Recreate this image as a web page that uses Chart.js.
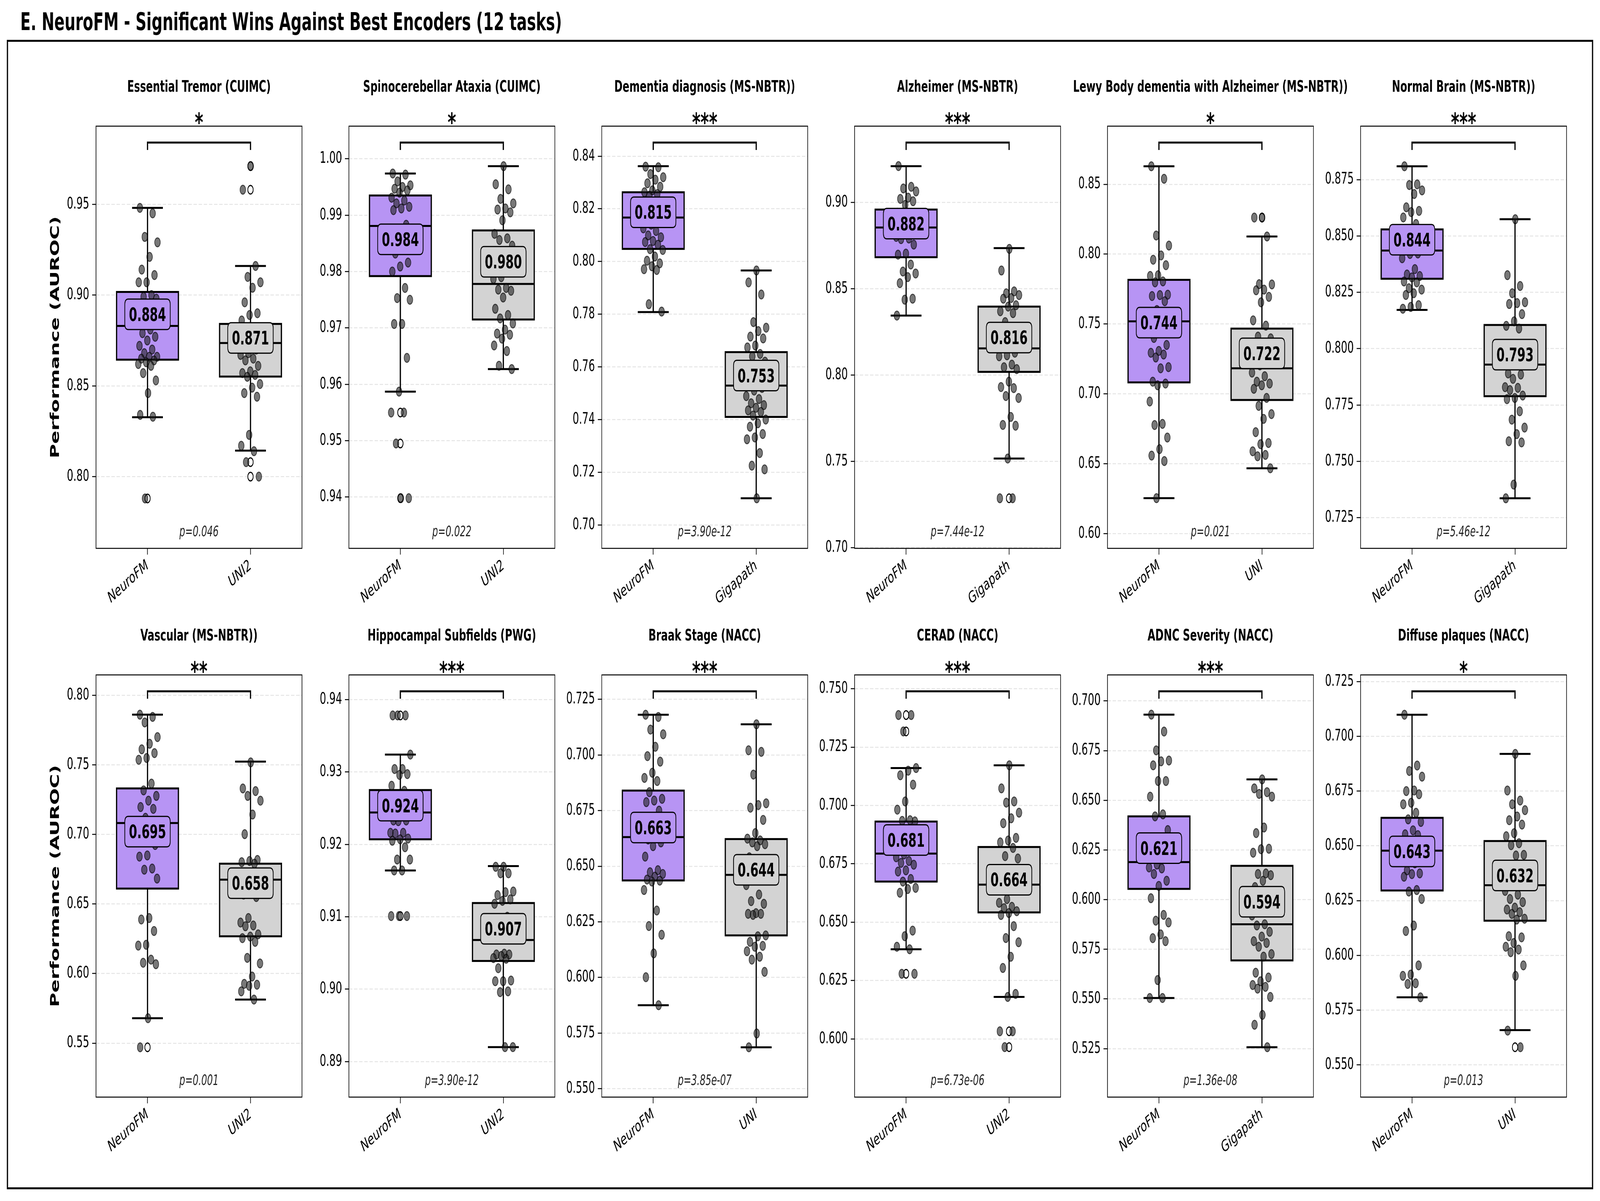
<!DOCTYPE html>
<html>
<head>
<meta charset="utf-8">
<script src="https://cdn.jsdelivr.net/npm/chart.js@4.4.1/dist/chart.umd.min.js"></script>
<style>
html, body { margin: 0; padding: 0; background: #fff; overflow: hidden; }
#page { position: absolute; left: 0; top: 0; width: 6549px; height: 3075px; background: #fff; transform-origin: 0 0; }
#title { position: absolute; left: 83px; top: 25px; font: bold 62px/62px 'DejaVu Sans'; white-space: nowrap; color: #000; }
#frame { position: absolute; left: 28px; top: 102px; width: 6493px; height: 2943px; border: 5px solid #000; box-sizing: border-box; }
canvas { position: absolute; }
</style>
</head>
<body>
<div id="page">
<div id="title">E. NeuroFM - Significant Wins Against Best Encoders (12 tasks)</div>
<div id="frame"></div>
</div>
<script>
// tasks and comparators
var tasks = ['Essential Tremor (CUIMC)', 'Spinocerebellar Ataxia (CUIMC)', 'Dementia diagnosis (MS-NBTR))',
  'Alzheimer (MS-NBTR)', 'Lewy Body dementia with Alzheimer (MS-NBTR))', 'Normal Brain (MS-NBTR))',
  'Vascular (MS-NBTR))', 'Hippocampal Subfields (PWG)', 'Braak Stage (NACC)', 'CERAD (NACC)',
  'ADNC Severity (NACC)', 'Diffuse plaques (NACC)'];
var rivals = ['UNI2', 'UNI2', 'Gigapath', 'Gigapath', 'UNI', 'Gigapath', 'UNI2', 'UNI2', 'UNI', 'UNI2', 'Gigapath', 'UNI'];
var stars = ['*', '*', '***', '***', '*', '***', '**', '***', '***', '***', '***', '*'];
var pLabels = ['p=0.046', 'p=0.022', 'p=3.90e-12', 'p=7.44e-12', 'p=0.021', 'p=5.46e-12',
  'p=0.001', 'p=3.90e-12', 'p=3.85e-07', 'p=6.73e-06', 'p=1.36e-08', 'p=0.013'];

// means shown in the labels
var meanNeuro = [0.884, 0.984, 0.815, 0.882, 0.744, 0.844, 0.695, 0.924, 0.663, 0.681, 0.621, 0.643];
var meanRival = [0.871, 0.980, 0.753, 0.816, 0.722, 0.793, 0.658, 0.907, 0.644, 0.664, 0.594, 0.632];

// box stats NeuroFM
var q1Neuro  = [0.8644, 0.9792, 0.8048, 0.8682, 0.7082, 0.8310, 0.6611, 0.9207, 0.6436, 0.6674, 0.6054, 0.6296];
var medNeuro = [0.8830, 0.9881, 0.8167, 0.8854, 0.7519, 0.8435, 0.7082, 0.9244, 0.6631, 0.6794, 0.6189, 0.6478];
var q3Neuro  = [0.9017, 0.9935, 0.8263, 0.8958, 0.7816, 0.8529, 0.7331, 0.9275, 0.6840, 0.6931, 0.6419, 0.6628];
var loNeuro  = [0.8327, 0.9587, 0.7808, 0.8344, 0.6253, 0.8172, 0.5679, 0.9164, 0.5875, 0.6384, 0.5505, 0.5808];
var hiNeuro  = [0.9480, 0.9974, 0.8362, 0.9209, 0.8629, 0.8809, 0.7861, 0.9324, 0.7181, 0.7160, 0.6931, 0.7099];
// box stats comparator
var q1Rival  = [0.8551, 0.9715, 0.7410, 0.8018, 0.6956, 0.7789, 0.6268, 0.9039, 0.6189, 0.6542, 0.5694, 0.6158];
var medRival = [0.8736, 0.9778, 0.7529, 0.8154, 0.7183, 0.7929, 0.6675, 0.9068, 0.6461, 0.6661, 0.5876, 0.6320];
var q3Rival  = [0.8841, 0.9873, 0.7656, 0.8396, 0.7467, 0.8105, 0.6790, 0.9119, 0.6622, 0.6822, 0.6170, 0.6522];
var loRival  = [0.8143, 0.9627, 0.7101, 0.7516, 0.6467, 0.7336, 0.5813, 0.8920, 0.5686, 0.6180, 0.5257, 0.5658];
var hiRival  = [0.9160, 0.9987, 0.7966, 0.8735, 0.8126, 0.8574, 0.7524, 0.9170, 0.7138, 0.7172, 0.6605, 0.6920];

var fliersNeuro = [[0.788], [0.955, 0.9495, 0.9398], [], [], [], [], [0.547], [0.9378, 0.9101], [], [0.7387, 0.7317, 0.6279], [], []];
var fliersRival = [[0.971, 0.958, 0.808, 0.800], [], [], [0.7286], [0.8262], [], [], [], [], [0.6033, 0.5965], [], [0.558]];

// per-run scores
var ptsNeuro = [
  [0.948, 0.945, 0.932, 0.929, 0.921, 0.914, 0.911, 0.907, 0.907, 0.900, 0.899, 0.898, 0.893, 0.889, 0.887, 0.885, 0.884, 0.881, 0.879, 0.877, 0.875, 0.872, 0.870, 0.868, 0.866, 0.866, 0.865, 0.864, 0.863, 0.862, 0.861, 0.857, 0.853, 0.846, 0.834, 0.833, 0.788],
  [0.9974, 0.9972, 0.9960, 0.9953, 0.9950, 0.9947, 0.9944, 0.9940, 0.9931, 0.9926, 0.9921, 0.9915, 0.9912, 0.9909, 0.9883, 0.9873, 0.9865, 0.9855, 0.9832, 0.9816, 0.9809, 0.9800, 0.9771, 0.9753, 0.9750, 0.9707, 0.9707, 0.9647, 0.9587, 0.9550, 0.9550, 0.9495, 0.9398, 0.9398],
  [0.8360, 0.8358, 0.8332, 0.8320, 0.8311, 0.8297, 0.8284, 0.8270, 0.8263, 0.8256, 0.8250, 0.8220, 0.8190, 0.8180, 0.8160, 0.8140, 0.8126, 0.8116, 0.8099, 0.8092, 0.8078, 0.8074, 0.8064, 0.8047, 0.8044, 0.8019, 0.8003, 0.7993, 0.7982, 0.7971, 0.7968, 0.7838, 0.7810],
  [0.9210, 0.9090, 0.9080, 0.9063, 0.9027, 0.9020, 0.9006, 0.8985, 0.8940, 0.8920, 0.8900, 0.8890, 0.8870, 0.8850, 0.8840, 0.8820, 0.8800, 0.8790, 0.8787, 0.8755, 0.8703, 0.8697, 0.8640, 0.8599, 0.8588, 0.8567, 0.8532, 0.8442, 0.8436, 0.8344],
  [0.8629, 0.8539, 0.8133, 0.8061, 0.7991, 0.7960, 0.7921, 0.7849, 0.7844, 0.7805, 0.7798, 0.7710, 0.7707, 0.7700, 0.7663, 0.7600, 0.7520, 0.7450, 0.7400, 0.7350, 0.7307, 0.7294, 0.7281, 0.7260, 0.7191, 0.7183, 0.7087, 0.7074, 0.7061, 0.6945, 0.6785, 0.6777, 0.6687, 0.6604, 0.6558, 0.6519, 0.6253],
  [0.8809, 0.8729, 0.8726, 0.8702, 0.8686, 0.8627, 0.8611, 0.8606, 0.8582, 0.8553, 0.8500, 0.8480, 0.8460, 0.8450, 0.8422, 0.8420, 0.8401, 0.8353, 0.8329, 0.8322, 0.8316, 0.8298, 0.8294, 0.8268, 0.8262, 0.8246, 0.8238, 0.8193, 0.8185, 0.8177],
  [0.7861, 0.7845, 0.7805, 0.7700, 0.7652, 0.7612, 0.7585, 0.7550, 0.7537, 0.7366, 0.7317, 0.7277, 0.7243, 0.7197, 0.7184, 0.7120, 0.7050, 0.7000, 0.6957, 0.6924, 0.6849, 0.6841, 0.6755, 0.6747, 0.6683, 0.6399, 0.6389, 0.6306, 0.6207, 0.6201, 0.6100, 0.6078, 0.6067, 0.5679, 0.5470],
  [0.9378, 0.9378, 0.9378, 0.9324, 0.9304, 0.9304, 0.9297, 0.9296, 0.9281, 0.9274, 0.9260, 0.9250, 0.9240, 0.9233, 0.9233, 0.9232, 0.9216, 0.9216, 0.9215, 0.9208, 0.9207, 0.9205, 0.9196, 0.9179, 0.9179, 0.9164, 0.9164, 0.9101, 0.9101, 0.9101],
  [0.7181, 0.7171, 0.7114, 0.7093, 0.7037, 0.6995, 0.6970, 0.6920, 0.6897, 0.6883, 0.6833, 0.6803, 0.6795, 0.6788, 0.6750, 0.6720, 0.6680, 0.6650, 0.6620, 0.6607, 0.6590, 0.6543, 0.6482, 0.6473, 0.6465, 0.6453, 0.6440, 0.6435, 0.6431, 0.6393, 0.6301, 0.6231, 0.6192, 0.6108, 0.6001, 0.5875],
  [0.7387, 0.7387, 0.7317, 0.7160, 0.7149, 0.7129, 0.7089, 0.7017, 0.6982, 0.6937, 0.6934, 0.6932, 0.6880, 0.6840, 0.6810, 0.6790, 0.6778, 0.6762, 0.6754, 0.6746, 0.6722, 0.6717, 0.6685, 0.6674, 0.6647, 0.6642, 0.6626, 0.6464, 0.6440, 0.6395, 0.6384, 0.6279, 0.6279],
  [0.6931, 0.6846, 0.6751, 0.6700, 0.6696, 0.6676, 0.6597, 0.6597, 0.6518, 0.6429, 0.6419, 0.6350, 0.6300, 0.6250, 0.6210, 0.6176, 0.6162, 0.6157, 0.6129, 0.6095, 0.6069, 0.6007, 0.5923, 0.5894, 0.5885, 0.5825, 0.5806, 0.5791, 0.5595, 0.5505, 0.5505],
  [0.7099, 0.6867, 0.6842, 0.6816, 0.6753, 0.6750, 0.6736, 0.6697, 0.6690, 0.6651, 0.6621, 0.6609, 0.6571, 0.6553, 0.6549, 0.6500, 0.6450, 0.6420, 0.6388, 0.6374, 0.6371, 0.6359, 0.6298, 0.6291, 0.6257, 0.6136, 0.6111, 0.5954, 0.5912, 0.5906, 0.5872, 0.5869, 0.5808]
];
var ptsRival = [
  [0.971, 0.958, 0.916, 0.910, 0.907, 0.904, 0.896, 0.890, 0.889, 0.886, 0.880, 0.878, 0.875, 0.873, 0.872, 0.870, 0.868, 0.867, 0.865, 0.864, 0.861, 0.858, 0.857, 0.856, 0.855, 0.851, 0.849, 0.846, 0.844, 0.823, 0.817, 0.814, 0.808, 0.800],
  [0.9987, 0.9955, 0.9946, 0.9929, 0.9921, 0.9912, 0.9910, 0.9905, 0.9891, 0.9867, 0.9859, 0.9856, 0.9846, 0.9829, 0.9810, 0.9800, 0.9790, 0.9787, 0.9771, 0.9768, 0.9766, 0.9754, 0.9734, 0.9723, 0.9717, 0.9708, 0.9697, 0.9690, 0.9688, 0.9681, 0.9669, 0.9659, 0.9633, 0.9627],
  [0.7966, 0.7921, 0.7875, 0.7770, 0.7749, 0.7736, 0.7715, 0.7708, 0.7681, 0.7674, 0.7649, 0.7640, 0.7620, 0.7580, 0.7550, 0.7520, 0.7510, 0.7489, 0.7478, 0.7462, 0.7455, 0.7445, 0.7435, 0.7429, 0.7415, 0.7400, 0.7386, 0.7373, 0.7345, 0.7332, 0.7325, 0.7273, 0.7225, 0.7211, 0.7101],
  [0.8730, 0.8605, 0.8484, 0.8473, 0.8463, 0.8446, 0.8442, 0.8404, 0.8396, 0.8369, 0.8358, 0.8306, 0.8250, 0.8200, 0.8180, 0.8129, 0.8114, 0.8108, 0.8060, 0.8045, 0.8034, 0.7961, 0.7930, 0.7924, 0.7878, 0.7867, 0.7757, 0.7711, 0.7706, 0.7516, 0.7286, 0.7286],
  [0.8262, 0.8262, 0.8126, 0.7785, 0.7783, 0.7746, 0.7741, 0.7694, 0.7655, 0.7526, 0.7488, 0.7410, 0.7397, 0.7300, 0.7250, 0.7220, 0.7204, 0.7152, 0.7126, 0.7087, 0.7074, 0.7061, 0.7036, 0.6971, 0.6914, 0.6855, 0.6821, 0.6726, 0.6648, 0.6640, 0.6589, 0.6563, 0.6553, 0.6467],
  [0.8574, 0.8326, 0.8278, 0.8246, 0.8206, 0.8202, 0.8198, 0.8153, 0.8121, 0.8101, 0.8089, 0.8000, 0.7960, 0.7930, 0.7890, 0.7885, 0.7866, 0.7829, 0.7826, 0.7816, 0.7792, 0.7781, 0.7776, 0.7722, 0.7685, 0.7650, 0.7621, 0.7589, 0.7584, 0.7397, 0.7336],
  [0.7518, 0.7331, 0.7312, 0.7277, 0.7243, 0.7143, 0.7002, 0.6817, 0.6809, 0.6801, 0.6790, 0.6720, 0.6650, 0.6600, 0.6568, 0.6550, 0.6399, 0.6367, 0.6346, 0.6340, 0.6282, 0.6266, 0.6255, 0.6228, 0.6113, 0.6073, 0.5979, 0.5926, 0.5920, 0.5912, 0.5872, 0.5813],
  [0.9169, 0.9169, 0.9160, 0.9160, 0.9135, 0.9134, 0.9130, 0.9124, 0.9122, 0.9118, 0.9100, 0.9080, 0.9070, 0.9049, 0.9048, 0.9048, 0.9046, 0.9043, 0.9042, 0.9029, 0.9012, 0.9011, 0.9011, 0.8997, 0.8996, 0.8920, 0.8920],
  [0.7138, 0.7021, 0.7014, 0.6912, 0.6783, 0.6775, 0.6763, 0.6708, 0.6649, 0.6624, 0.6616, 0.6607, 0.6599, 0.6590, 0.6540, 0.6500, 0.6450, 0.6415, 0.6373, 0.6343, 0.6331, 0.6289, 0.6286, 0.6286, 0.6281, 0.6189, 0.6185, 0.6160, 0.6142, 0.6138, 0.6118, 0.6093, 0.6080, 0.6025, 0.5748, 0.5686],
  [0.7172, 0.7073, 0.7017, 0.7012, 0.6969, 0.6945, 0.6924, 0.6861, 0.6850, 0.6842, 0.6818, 0.6783, 0.6773, 0.6720, 0.6680, 0.6640, 0.6599, 0.6583, 0.6566, 0.6560, 0.6547, 0.6539, 0.6531, 0.6483, 0.6432, 0.6414, 0.6352, 0.6304, 0.6193, 0.6180, 0.6033, 0.6033, 0.5965],
  [0.6605, 0.6560, 0.6541, 0.6532, 0.6518, 0.6363, 0.6335, 0.6256, 0.6254, 0.6236, 0.6132, 0.6129, 0.6123, 0.6095, 0.6063, 0.6000, 0.5960, 0.5920, 0.5876, 0.5870, 0.5838, 0.5814, 0.5791, 0.5782, 0.5763, 0.5726, 0.5713, 0.5632, 0.5608, 0.5589, 0.5570, 0.5561, 0.5552, 0.5510, 0.5420, 0.5370, 0.5257],
  [0.6920, 0.6753, 0.6707, 0.6690, 0.6663, 0.6634, 0.6617, 0.6597, 0.6558, 0.6544, 0.6512, 0.6503, 0.6459, 0.6456, 0.6400, 0.6360, 0.6320, 0.6294, 0.6277, 0.6257, 0.6243, 0.6218, 0.6209, 0.6197, 0.6189, 0.6167, 0.6163, 0.6087, 0.6082, 0.6056, 0.6039, 0.6026, 0.6014, 0.5954, 0.5906, 0.5656, 0.5580]
];

// axis limits and tick labels
var yMin = [0.7605, 0.9309, 0.6911, 0.6996, 0.5894, 0.7114, 0.5112, 0.8851, 0.5462, 0.5751, 0.5006, 0.5352];
var yMax = [0.9930, 1.0058, 0.8514, 0.9441, 0.8916, 0.8987, 0.8147, 0.9434, 0.7360, 0.7559, 0.7131, 0.7281];
var yTickLabels = [
  ['0.80', '0.85', '0.90', '0.95'],
  ['0.94', '0.95', '0.96', '0.97', '0.98', '0.99', '1.00'],
  ['0.70', '0.72', '0.74', '0.76', '0.78', '0.80', '0.82', '0.84'],
  ['0.70', '0.75', '0.80', '0.85', '0.90'],
  ['0.60', '0.65', '0.70', '0.75', '0.80', '0.85'],
  ['0.725', '0.750', '0.775', '0.800', '0.825', '0.850', '0.875'],
  ['0.55', '0.60', '0.65', '0.70', '0.75', '0.80'],
  ['0.89', '0.90', '0.91', '0.92', '0.93', '0.94'],
  ['0.550', '0.575', '0.600', '0.625', '0.650', '0.675', '0.700', '0.725'],
  ['0.600', '0.625', '0.650', '0.675', '0.700', '0.725', '0.750'],
  ['0.525', '0.550', '0.575', '0.600', '0.625', '0.650', '0.675', '0.700'],
  ['0.550', '0.575', '0.600', '0.625', '0.650', '0.675', '0.700', '0.725']
];

// layout (in picture pixels; the page is fitted to the window)
var PAGE_W = 6549, PAGE_H = 3075;
var PLOT_W = 843, PLOT_H = 1081, YW = 200, TOP = 150, XH = 200, RP = 200;
var colLeft = [393, 1428, 2463, 3498, 4533, 5569];
var rowTop = [323, 1728];
var purple = '#b794f4', grey = '#d3d3d3';
var FONT = "'DejaVu Sans'";

var page = document.getElementById('page');
var sx = window.innerWidth / PAGE_W, sy = window.innerHeight / PAGE_H;
page.style.transform = 'scale(' + sx + ',' + sy + ')';

Chart.defaults.font.family = 'DejaVu Sans';
Chart.defaults.color = '#000';

function jitter(j, g) {
  return (((j * 0.6180339887 + g * 0.381 + 0.13) % 1) - 0.5) * 0.2;
}

function roundRect(ctx, x, y, w, h, r) {
  ctx.beginPath();
  ctx.moveTo(x + r, y);
  ctx.lineTo(x + w - r, y);
  ctx.quadraticCurveTo(x + w, y, x + w, y + r);
  ctx.lineTo(x + w, y + h - r);
  ctx.quadraticCurveTo(x + w, y + h, x + w - r, y + h);
  ctx.lineTo(x + r, y + h);
  ctx.quadraticCurveTo(x, y + h, x, y + h - r);
  ctx.lineTo(x, y + r);
  ctx.quadraticCurveTo(x, y, x + r, y);
  ctx.closePath();
}

function boxPlugin(i, col) {
  var groups = [
    {q1: q1Neuro[i], med: medNeuro[i], q3: q3Neuro[i], lo: loNeuro[i], hi: hiNeuro[i], fl: fliersNeuro[i], mean: meanNeuro[i], color: purple},
    {q1: q1Rival[i], med: medRival[i], q3: q3Rival[i], lo: loRival[i], hi: hiRival[i], fl: fliersRival[i], mean: meanRival[i], color: grey}
  ];
  return {
    id: 'box' + i,
    beforeDatasetsDraw: function (chart) {
      var ctx = chart.ctx, xs = chart.scales.x, ys = chart.scales.y;
      groups.forEach(function (s, g) {
        var cx = xs.getPixelForValue(g);
        var hw = xs.getPixelForValue(g + 0.3) - cx;
        var cw = hw / 2;
        var yq1 = ys.getPixelForValue(s.q1), yq3 = ys.getPixelForValue(s.q3);
        var ylo = ys.getPixelForValue(s.lo), yhi = ys.getPixelForValue(s.hi);
        var ymed = ys.getPixelForValue(s.med);
        ctx.save();
        ctx.strokeStyle = '#000';
        ctx.lineWidth = 5;
        ctx.beginPath();
        ctx.moveTo(cx, yq3); ctx.lineTo(cx, yhi);
        ctx.moveTo(cx, yq1); ctx.lineTo(cx, ylo);
        ctx.moveTo(cx - cw, yhi); ctx.lineTo(cx + cw, yhi);
        ctx.moveTo(cx - cw, ylo); ctx.lineTo(cx + cw, ylo);
        ctx.stroke();
        ctx.fillStyle = s.color;
        ctx.fillRect(cx - hw, yq3, 2 * hw, yq1 - yq3);
        ctx.strokeRect(cx - hw, yq3, 2 * hw, yq1 - yq3);
        ctx.beginPath();
        ctx.moveTo(cx - hw, ymed); ctx.lineTo(cx + hw, ymed);
        ctx.stroke();
        ctx.lineWidth = 3;
        s.fl.forEach(function (v) {
          ctx.beginPath();
          ctx.arc(cx, ys.getPixelForValue(v), 11, 0, Math.PI * 2);
          ctx.fillStyle = '#fff';
          ctx.fill();
          ctx.stroke();
        });
        ctx.restore();
      });
    },
    afterDatasetsDraw: function (chart) {
      var ctx = chart.ctx, xs = chart.scales.x, ys = chart.scales.y, a = chart.chartArea;
      ctx.save();
      // mean labels
      groups.forEach(function (s, g) {
        var cx = xs.getPixelForValue(g);
        var cy = ys.getPixelForValue(s.mean) - 25;
        var txt = s.mean.toFixed(3);
        ctx.font = 'bold 48px ' + FONT;
        var tw = ctx.measureText(txt).width;
        var bw = tw + 34, bh = 78;
        roundRect(ctx, cx - bw / 2, cy - bh / 2, bw, bh, 14);
        ctx.fillStyle = s.color;
        ctx.fill();
        ctx.lineWidth = 3;
        ctx.strokeStyle = '#000';
        ctx.stroke();
        ctx.fillStyle = '#000';
        ctx.textAlign = 'center';
        ctx.textBaseline = 'alphabetic';
        ctx.fillText(txt, cx, cy + 17);
      });
      // significance bracket
      var x0 = xs.getPixelForValue(0), x1 = xs.getPixelForValue(1);
      var by = a.top + 42;
      ctx.lineWidth = 5;
      ctx.strokeStyle = '#000';
      ctx.beginPath();
      ctx.moveTo(x0, by + 19); ctx.lineTo(x0, by); ctx.lineTo(x1, by); ctx.lineTo(x1, by + 19);
      ctx.stroke();
      var mid = (a.left + a.right) / 2;
      ctx.fillStyle = '#000';
      ctx.textAlign = 'center';
      ctx.textBaseline = 'alphabetic';
      ctx.font = 'bold 66px ' + FONT;
      ctx.fillText(stars[i], mid, a.top + 13);
      // panel title
      ctx.font = 'bold 41px ' + FONT;
      ctx.textBaseline = 'middle';
      ctx.fillText(tasks[i], mid, a.top - 99);
      // p-value
      ctx.textBaseline = 'alphabetic';
      ctx.font = 'italic 37px ' + FONT;
      ctx.fillStyle = '#222';
      ctx.fillText(pLabels[i], mid, a.bottom - 31);
      // spines
      ctx.lineWidth = 2.5;
      ctx.strokeStyle = '#000';
      ctx.strokeRect(a.left, a.top, a.right - a.left, a.bottom - a.top);
      // y axis title on first column
      if (col === 0) {
        ctx.translate(35, (a.top + a.bottom) / 2);
        ctx.rotate(-Math.PI / 2);
        ctx.font = 'bold 50px ' + FONT;
        ctx.fillStyle = '#000';
        ctx.textBaseline = 'middle';
        ctx.fillText('Performance (AUROC)', 0, 0);
      }
      ctx.restore();
    }
  };
}

for (var i = 0; i < 12; i++) {
  (function (i) {
    var col = i % 6, row = Math.floor(i / 6);
    var cv = document.createElement('canvas');
    var w = YW + PLOT_W + RP, h = TOP + PLOT_H + XH;
    cv.width = w; cv.height = h;
    cv.style.width = w + 'px'; cv.style.height = h + 'px';
    cv.style.left = (colLeft[col] - YW) + 'px';
    cv.style.top = (rowTop[row] - TOP) + 'px';
    page.appendChild(cv);

    var names = ['NeuroFM', rivals[i]];
    var ticks = yTickLabels[i].map(function (t) { return parseFloat(t); });
    var pointStyle = {
      showLine: false,
      pointRadius: 11.5,
      pointBorderWidth: 2.5,
      pointBackgroundColor: 'rgba(30,30,30,0.6)',
      pointBorderColor: 'rgba(0,0,0,0.65)',
      pointHoverRadius: 11.5
    };

    new Chart(cv, {
      type: 'scatter',
      data: {
        datasets: [
          Object.assign({label: names[0], data: ptsNeuro[i].map(function (v, j) { return {x: jitter(j, 0), y: v}; })}, pointStyle),
          Object.assign({label: names[1], data: ptsRival[i].map(function (v, j) { return {x: 1 + jitter(j, 1), y: v}; })}, pointStyle)
        ]
      },
      options: {
        responsive: false,
        animation: false,
        devicePixelRatio: 1,
        events: [],
        layout: {padding: {top: TOP, left: 0, right: RP, bottom: 0}},
        plugins: {
          legend: {display: false},
          tooltip: {enabled: false},
          title: {display: false}
        },
        scales: {
          x: {
            type: 'linear',
            min: -0.5,
            max: 1.5,
            afterBuildTicks: function (s) { s.ticks = [{value: 0}, {value: 1}]; },
            afterFit: function (s) { s.height = XH; },
            ticks: {
              autoSkip: false,
              minRotation: 30,
              maxRotation: 30,
              padding: 4,
              font: {size: 41},
              color: '#000',
              callback: function (v, idx) { return names[idx]; }
            },
            grid: {drawOnChartArea: false, drawTicks: true, tickLength: 16, tickColor: '#000', tickWidth: 2.5},
            border: {display: false}
          },
          y: {
            type: 'linear',
            min: yMin[i],
            max: yMax[i],
            afterBuildTicks: function (s) { s.ticks = ticks.map(function (v) { return {value: v}; }); },
            afterFit: function (s) { s.width = YW; },
            ticks: {
              padding: 12,
              font: {size: 41},
              color: '#000',
              callback: function (v, idx) { return yTickLabels[i][idx]; }
            },
            grid: {
              color: 'rgba(0,0,0,0.1)',
              lineWidth: 2.5,
              borderDash: [14, 7],
              tickLength: 16,
              tickColor: '#000',
              tickWidth: 2.5,
              tickBorderDash: []
            },
            border: {display: false, dash: [14, 7]}
          }
        }
      },
      plugins: [boxPlugin(i, col)]
    });
  })(i);
}
</script>
</body>
</html>
